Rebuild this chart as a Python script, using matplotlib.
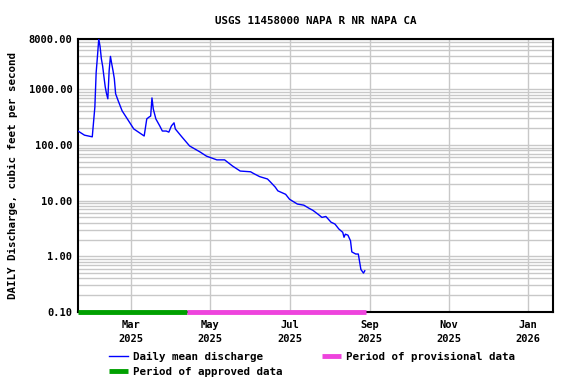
import matplotlib
matplotlib.use("Agg")
import matplotlib.pyplot as plt
from matplotlib.ticker import LogLocator, FixedLocator, NullFormatter
import pandas as pd

# ---------- данные (читаются с картинки) ----------
dates = [
    "2025-01-19", "2025-01-24", "2025-01-30", "2025-02-01", "2025-02-02",
    "2025-02-03", "2025-02-04", "2025-02-05", "2025-02-06", "2025-02-07",
    "2025-02-08", "2025-02-09", "2025-02-10", "2025-02-11", "2025-02-12",
    "2025-02-13", "2025-02-14", "2025-02-15", "2025-02-16", "2025-02-17",
    "2025-02-19", "2025-02-22", "2025-02-25", "2025-03-03", "2025-03-11",
    "2025-03-13", "2025-03-15", "2025-03-16", "2025-03-17", "2025-03-18",
    "2025-03-20", "2025-03-23", "2025-03-25", "2025-03-28", "2025-03-30",
    "2025-04-01", "2025-04-03", "2025-04-04", "2025-04-09", "2025-04-15",
    "2025-04-23", "2025-04-28", "2025-05-06", "2025-05-12", "2025-05-18",
    "2025-05-24", "2025-06-01", "2025-06-03", "2025-06-08", "2025-06-14",
    "2025-06-16", "2025-06-20", "2025-06-22", "2025-06-28", "2025-07-01",
    "2025-07-07", "2025-07-12", "2025-07-16", "2025-07-19", "2025-07-23",
    "2025-07-26", "2025-07-29", "2025-08-02", "2025-08-05", "2025-08-08",
    "2025-08-11", "2025-08-12", "2025-08-13", "2025-08-15", "2025-08-17",
    "2025-08-18", "2025-08-21", "2025-08-23", "2025-08-24", "2025-08-25",
    "2025-08-27", "2025-08-28",
]
discharge = [
    178, 150, 140, 480, 2000,
    3900, 8000, 5900, 3550, 2600,
    1680, 1100, 830, 675, 2150,
    3900, 2870, 2150, 1550, 830,
    620, 410, 320, 194, 145,
    294, 320, 330, 700, 445,
    294, 220, 178, 178, 170,
    220, 250, 194, 140, 96,
    75, 63, 54, 54, 42,
    34, 33, 31, 27, 24.5,
    22, 17.5, 15, 13, 10.6,
    8.7, 8.3, 7.3, 6.7, 5.7,
    5.0, 5.2, 4.1, 3.8, 3.1,
    2.7, 2.2, 2.5, 2.4, 1.9,
    1.2, 1.1, 1.1, 0.8, 0.58,
    0.5, 0.55,
]

approved_period = ["2025-01-19", "2025-04-13"]
provisional_period = ["2025-04-13", "2025-08-29"]

tick_dates = ["2025-03-01", "2025-05-01", "2025-07-01", "2025-09-01",
              "2025-11-01", "2026-01-01"]
tick_labels = ["Mar\n2025", "May\n2025", "Jul\n2025", "Sep\n2025",
               "Nov\n2025", "Jan\n2026"]
y_ticks = [0.1, 1, 10, 100, 1000, 8000]
y_labels = ["0.10", "1.00", "10.00", "100.00", "1000.00", "8000.00"]
# ----------------------------------------------

plt.rcParams["font.family"] = "DejaVu Sans Mono"
plt.rcParams["font.weight"] = "bold"
plt.rcParams["font.size"] = 7.5

fig = plt.figure(figsize=(5.76, 3.84), dpi=100)
ax = fig.add_axes([0.1354, 0.1875, 0.8246, 0.7109])

x = pd.to_datetime(dates)
ax.plot(x, discharge, color="#0000ff", lw=1, label="Daily mean discharge", zorder=3)

ax.set_yscale("log")
ax.set_ylim(0.1, 8000)
ax.set_xlim(pd.Timestamp("2025-01-19"), pd.Timestamp("2026-01-20"))

ax.yaxis.set_major_locator(FixedLocator(y_ticks))
ax.set_yticklabels(y_labels)
ax.yaxis.set_minor_locator(LogLocator(base=10, subs=range(2, 10), numticks=20))
ax.yaxis.set_minor_formatter(NullFormatter())

ax.set_xticks(pd.to_datetime(tick_dates))
ax.set_xticklabels(tick_labels, linespacing=1.45)

ax.grid(True, which="major", axis="both", color="#c8c8c8", lw=1)
ax.grid(True, which="minor", axis="y", color="#c8c8c8", lw=1)
ax.tick_params(which="both", length=0)
ax.tick_params(axis="x", pad=6)
ax.tick_params(axis="y", pad=4)
for s in ax.spines.values():
    s.set_linewidth(1.5)

ax.plot(pd.to_datetime(approved_period), [0.1, 0.1], color="#00a000", lw=3.5,
        solid_capstyle="butt", clip_on=False, zorder=4,
        label="Period of approved data")
ax.plot(pd.to_datetime(provisional_period), [0.1, 0.1], color="#ee44dd", lw=3.5,
        solid_capstyle="butt", clip_on=False, zorder=4,
        label="Period of provisional data")

ax.set_title("USGS 11458000 NAPA R NR NAPA CA", fontsize=7.8, fontweight="bold", pad=11)
ax.set_ylabel("DAILY Discharge, cubic feet per second", fontsize=7.8, fontweight="bold",
              labelpad=8)

h, l = ax.get_legend_handles_labels()
fig.legend(h, l, ncol=2,
           loc="upper left", bbox_to_anchor=(0.19, 0.084), frameon=False,
           handlelength=1.7, handletextpad=0.45, columnspacing=3.7,
           labelspacing=0.45, borderaxespad=0, borderpad=0, fontsize=7.8)

fig.savefig("out.png", dpi=100)
